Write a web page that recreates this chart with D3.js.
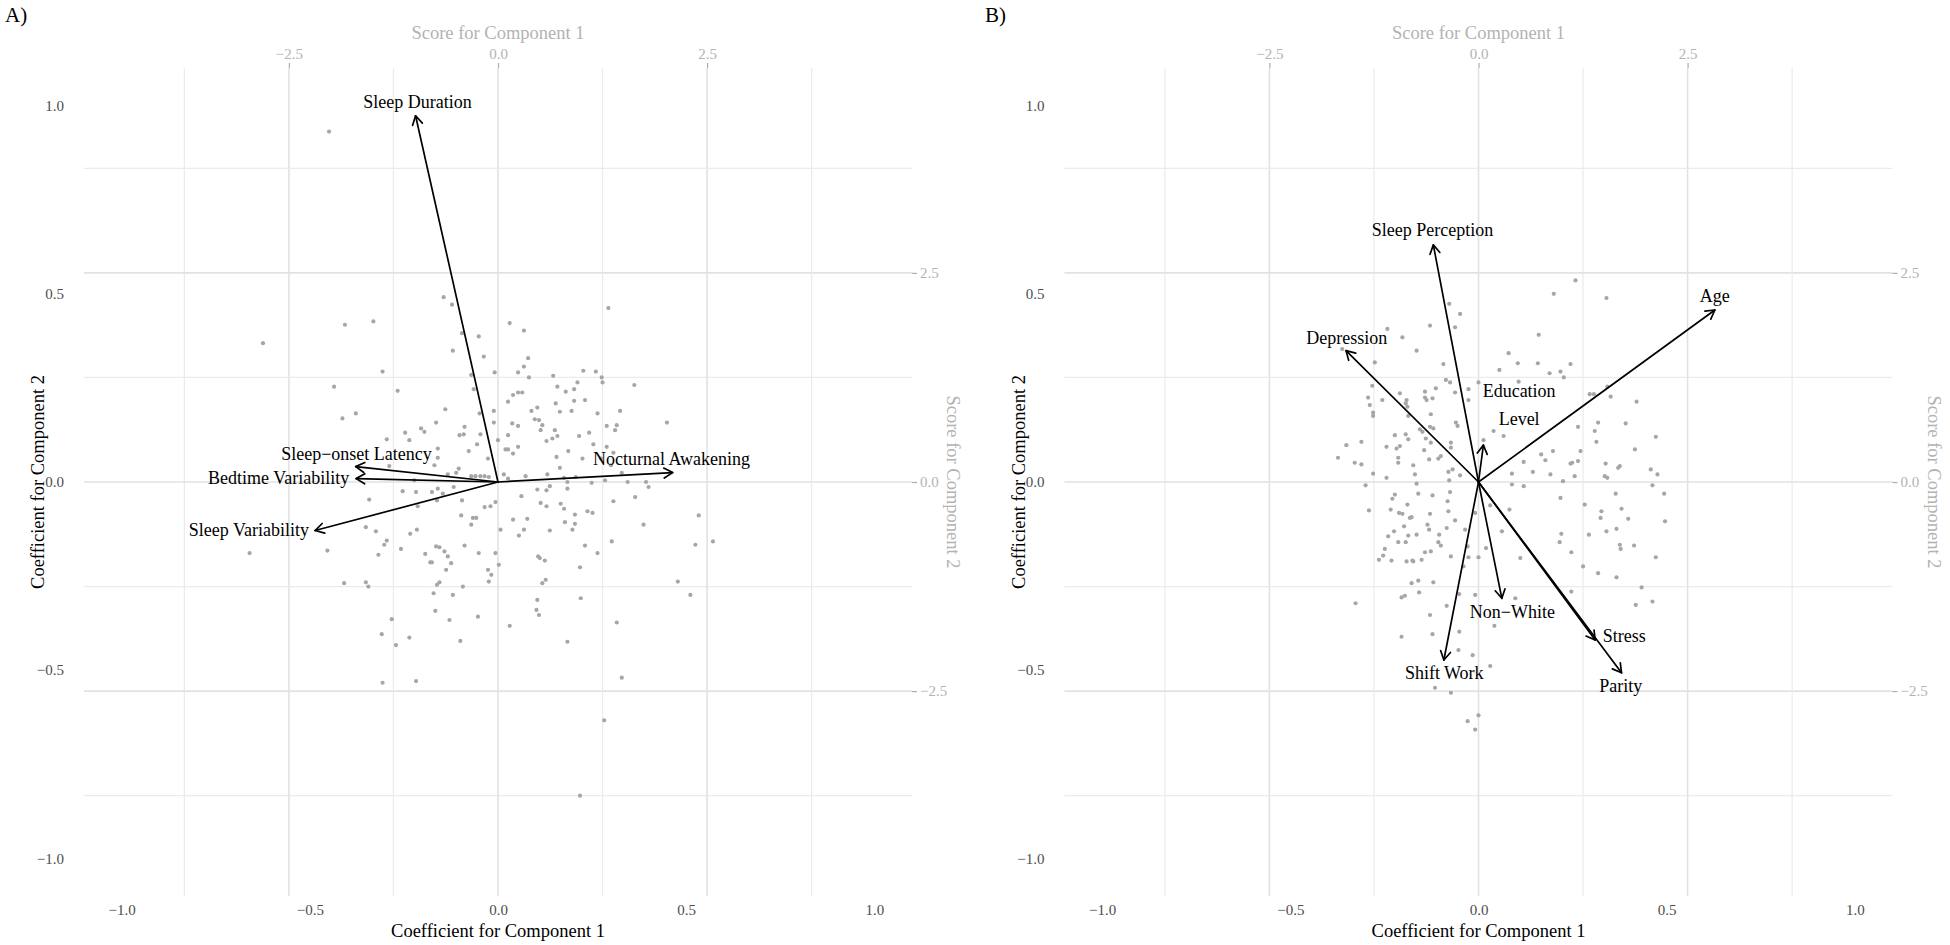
<!DOCTYPE html>
<html><head><meta charset="utf-8">
<script src="https://cdn.jsdelivr.net/npm/d3@7"></script>
<style>
body{margin:0;background:#fff}
svg{display:block}
text{font-family:"Liberation Serif","Times New Roman",serif}
</style>
</head><body>
<svg id="chart" width="1950" height="945"></svg>
<script>
// ---------- data ----------
const coefTicks = [-1, -0.5, 0, 0.5, 1];
const scoreTicks = [-2.5, 0, 2.5];
const gridScores = [-3.75, -2.5, -1.25, 0, 1.25, 2.5, 3.75];
const majorScores = [-2.5, 0, 2.5];
const scoreFactor = 4.5;

// Panel A loadings (coefficients) and label anchors
const varsA = ["Sleep Duration", "Sleep\u2212onset Latency", "Bedtime Variability", "Sleep Variability", "Nocturnal Awakening"];
const loadA_x = [-0.219, -0.378, -0.377, -0.486, 0.464];
const loadA_y = [0.973, 0.041, 0.009, -0.129, 0.025];
const labA_x = [-0.214, -0.376, -0.583, -0.662, 0.461];
const labA_y = [1.010, 0.075, 0.0125, -0.126, 0.061];

// Panel B loadings
const varsB = ["Age", "Sleep Perception", "Depression", "Education\nLevel", "Non\u2212White", "Stress", "Parity", "Shift Work"];
const loadB_x = [0.628, -0.120, -0.352, 0.013, 0.062, 0.310, 0.380, -0.092];
const loadB_y = [0.457, 0.630, 0.349, 0.098, -0.309, -0.420, -0.507, -0.473];
const labB_x = [0.628, -0.122, -0.350, 0.108, 0.090, 0.387, 0.378, -0.091];
const labB_y = [0.494, 0.671, 0.384, 0.206, -0.345, -0.408, -0.542, -0.508];

// Panel A scores (component 1, component 2)
const scoresA = [
[-2.02,4.19],[-2.81,1.66],[-0.65,2.21],[-0.55,2.12],[1.32,2.08],[-1.83,1.88],[-1.49,1.92],[0.14,1.90],[0.31,1.81],[-0.43,1.78],
[-0.23,1.74],[-0.54,1.57],[-0.17,1.50],[0.36,1.48],[0.31,1.38],[-1.38,1.32],[-0.04,1.31],[0.24,1.31],[0.37,1.25],[-0.32,1.28],
[0.66,1.27],[1.02,1.33],[1.17,1.32],[1.24,1.25],[1.25,1.19],[0.95,1.19],[1.63,1.16],[-1.96,1.14],[-1.20,1.09],[-0.29,1.11],
[0.71,1.14],[0.81,1.08],[0.91,1.11],[0.29,1.07],[0.24,1.07],[0.18,1.04],[0.12,0.96],[0.91,0.97],[1.04,0.98],[0.69,0.94],
[0.47,0.89],[-0.63,0.87],[-0.05,0.85],[0.40,0.85],[0.74,0.84],[0.88,0.85],[1.19,0.82],[1.46,0.85],[-1.86,0.76],[-1.70,0.82],
[-0.22,0.82],[0.44,0.75],[0.49,0.74],[2.02,0.71],[-0.74,0.71],[-0.05,0.71],[0.17,0.70],[0.24,0.67],[0.53,0.68],[-0.92,0.64],
[-0.88,0.60],[-0.40,0.66],[1.30,0.67],[1.42,0.68],[1.40,0.62],[0.68,0.62],[0.51,0.62],[1.09,0.59],[-1.11,0.59],[-0.46,0.56],
[-0.41,0.57],[-0.21,0.57],[0.12,0.56],[0.65,0.52],[0.71,0.55],[0.97,0.55],[-1.33,0.51],[-1.06,0.50],[0.00,0.50],[0.58,0.49],
[-0.25,0.45],[0.24,0.42],[1.14,0.45],[1.30,0.42],[-0.35,0.37],[0.09,0.39],[0.12,0.39],[0.18,0.34],[0.84,0.37],[0.70,0.30],
[1.38,0.35],[-0.72,0.40],[-0.72,0.29],[-0.76,0.20],[-0.12,0.28],[1.01,0.28],[1.23,0.28],[-1.30,0.19],[-0.47,0.16],[0.74,0.17],
[1.35,0.20],[1.48,0.11],[-0.50,0.11],[-0.60,0.09],[-0.32,0.07],[-0.27,0.07],[-0.21,0.07],[-0.16,0.07],[-0.11,0.06],[0.07,0.09],
[0.33,0.07],[0.59,0.09],[0.79,0.05],[0.93,0.06],[0.12,0.04],[-1.00,0.02],[0.83,0.00],[1.12,-0.01],[1.28,0.02],[1.55,0.00],
[1.77,0.00],[1.80,-0.06],[-0.72,-0.08],[-0.53,-0.06],[0.47,-0.09],[0.58,-0.10],[0.62,-0.05],[0.83,-0.08],[-1.14,-0.11],[-0.98,-0.12],
[-0.79,-0.12],[-0.66,-0.14],[0.28,-0.17],[1.64,-0.18],[-1.54,-0.21],[-0.73,-0.22],[-0.43,-0.22],[0.51,-0.25],[0.75,-0.26],[1.38,-0.23],
[-0.96,-0.29],[-0.16,-0.30],[-0.09,-0.29],[-0.03,-0.24],[0.58,-0.29],[0.79,-0.32],[1.07,-0.35],[1.13,-0.37],[0.92,-0.39],[-0.44,-0.40],
[2.40,-0.40],[0.18,-0.45],[0.35,-0.44],[-0.30,-0.43],[-0.26,-0.43],[-0.32,-0.51],[0.80,-0.48],[0.92,-0.50],[1.74,-0.51],[-1.58,-0.54],
[0.03,-0.57],[0.31,-0.57],[0.62,-0.58],[0.89,-0.57],[-1.46,-0.59],[-0.97,-0.57],[-1.05,-0.62],[0.25,-0.64],[-1.33,-0.70],[1.36,-0.71],
[2.57,-0.71],[-1.36,-0.75],[2.36,-0.75],[-0.74,-0.77],[-0.70,-0.78],[-0.40,-0.76],[1.04,-0.76],[-2.97,-0.85],[-2.04,-0.82],[-1.16,-0.80],
[-0.64,-0.83],[-0.23,-0.85],[-0.03,-0.85],[1.19,-0.85],[-1.43,-0.87],[-0.87,-0.86],[-0.60,-0.89],[0.48,-0.89],[0.50,-0.91],[-0.81,-0.96],
[-0.79,-0.96],[-0.56,-0.97],[0.56,-0.94],[0.01,-0.99],[-0.62,-1.05],[-0.12,-1.05],[0.98,-1.02],[-0.08,-1.11],[0.57,-1.17],[-1.84,-1.21],
[-1.58,-1.20],[-1.55,-1.25],[-0.70,-1.20],[-0.73,-1.23],[-0.11,-1.19],[0.53,-1.21],[-0.42,-1.25],[2.15,-1.19],[-0.77,-1.33],[-0.54,-1.35],
[2.30,-1.35],[0.99,-1.39],[0.47,-1.41],[-0.75,-1.54],[0.46,-1.53],[0.49,-1.59],[-0.24,-1.61],[-1.27,-1.64],[-0.58,-1.65],[1.42,-1.68],
[0.14,-1.72],[-1.39,-1.82],[-1.06,-1.86],[-0.45,-1.90],[0.83,-1.91],[-1.22,-1.95],[1.48,-2.34],[-1.38,-2.40],[-0.98,-2.38],[1.27,-2.85],
[0.98,-3.75]
];

// Panel B scores
const scoresB = [
[1.16,2.41],[0.90,2.25],[-0.35,2.13],[-0.22,2.01],[-0.58,1.87],[-0.28,1.85],[-1.09,1.83],[-0.91,1.73],[0.72,1.76],[-1.63,1.59],
[-0.74,1.57],[0.36,1.54],[0.47,1.42],[0.71,1.42],[1.10,1.41],[-1.24,1.43],[-0.42,1.41],[0.25,1.34],[0.85,1.30],[0.98,1.32],
[1.02,1.25],[0.48,1.20],[-0.39,1.22],[-0.34,1.19],[-1.27,1.15],[-0.51,1.12],[-0.12,1.11],[0.00,1.19],[-0.94,1.06],[-0.64,1.08],
[-0.28,1.07],[-1.32,1.01],[-1.15,0.98],[-0.86,0.98],[-0.64,1.01],[-0.55,1.00],[-0.62,0.98],[-0.87,0.94],[-0.85,0.90],[-1.30,0.92],
[-0.12,0.98],[-1.26,0.83],[-1.26,0.79],[-0.84,0.79],[-0.57,0.81],[-0.27,0.71],[-0.25,0.67],[-0.58,0.66],[-0.70,0.63],[-0.67,0.60],
[-0.54,0.64],[0.18,0.61],[0.30,0.55],[1.19,0.66],[-1.00,0.56],[-0.87,0.57],[-0.84,0.51],[-0.63,0.52],[-0.57,0.47],[-0.33,0.47],
[-1.40,0.48],[-1.58,0.44],[-1.10,0.42],[-0.98,0.40],[-0.94,0.43],[-0.65,0.38],[-0.33,0.41],[0.06,0.50],[0.89,0.37],[0.75,0.33],
[1.22,0.37],[-0.96,0.29],[-0.59,0.27],[-0.48,0.28],[-0.45,0.31],[-1.68,0.29],[0.54,0.24],[0.80,0.26],[1.10,0.22],[1.12,0.23],
[1.19,0.25],[-1.48,0.23],[-1.40,0.21],[-0.96,0.23],[-0.78,0.20],[-0.31,0.15],[-0.36,0.12],[-0.22,0.08],[-1.26,0.10],[-1.10,0.05],
[-0.76,0.09],[0.40,0.10],[0.65,0.12],[0.86,0.09],[1.15,0.07],[-0.35,0.02],[1.01,0.01],[-1.35,-0.04],[-0.74,-0.02],[0.40,-0.03],
[0.54,-0.05],[-1.00,-0.15],[-1.03,-0.20],[-0.72,-0.14],[-0.55,-0.16],[-0.34,-0.12],[-0.37,-0.23],[0.14,-0.28],[0.37,-0.33],[0.98,-0.19],
[-1.31,-0.34],[-1.05,-0.33],[-0.85,-0.27],[-0.95,-0.37],[-0.91,-0.38],[-0.58,-0.38],[-0.80,-0.42],[-0.82,-0.43],[-0.36,-0.35],[-0.28,-0.46],
[-0.04,-0.37],[-0.89,-0.53],[-0.61,-0.51],[-0.59,-0.57],[-0.38,-0.55],[-0.16,-0.57],[0.28,-0.59],[-1.01,-0.59],[-1.08,-0.65],[-0.84,-0.64],
[-0.74,-0.63],[-0.47,-0.63],[-0.96,-0.72],[-0.87,-0.72],[-0.48,-0.72],[-0.45,-0.76],[0.99,-0.62],[0.97,-0.72],[-1.12,-0.80],[-0.64,-0.84],
[-0.57,-0.83],[-0.13,-0.77],[0.09,-0.79],[1.11,-0.84],[-1.19,-0.93],[-1.14,-0.88],[-1.04,-0.94],[-0.86,-0.95],[-0.79,-0.94],[-0.78,-0.95],
[-0.68,-0.93],[-0.33,-0.89],[-0.12,-0.90],[0.00,-0.90],[0.50,-0.91],[-0.18,-1.01],[-0.80,-1.21],[-0.72,-1.18],[-0.54,-1.20],[-0.92,-1.38],
[-0.88,-1.36],[-0.71,-1.32],[-0.23,-1.34],[-0.04,-1.35],[0.44,-1.39],[1.11,-1.31],[-1.47,-1.45],[-0.38,-1.48],[-0.58,-1.59],[0.19,-1.72],
[-0.92,-1.85],[-0.55,-1.82],[-0.23,-1.79],[-0.24,-2.01],[-0.07,-2.07],[0.14,-2.20],[-0.52,-2.46],[-0.33,-2.52],[0.00,-2.79],[-0.13,-2.86],
[-0.04,-2.96],
[1.53,2.20],[1.89,0.96],[1.58,1.02],[1.33,1.05],[1.38,1.05],[1.54,1.14],[1.76,0.70],[1.43,0.71],[1.39,0.61],[1.41,0.48],
[2.12,0.54],[1.87,0.39],[1.52,0.22],[1.67,0.17],[1.69,0.19],[2.06,0.15],[2.14,0.09],[1.51,0.07],[1.54,0.05],[2.08,-0.04],
[2.22,-0.14],[1.64,-0.14],[1.27,-0.27],[1.47,-0.35],[1.71,-0.32],[1.46,-0.43],[1.79,-0.44],[2.23,-0.47],[1.53,-0.59],[1.65,-0.56],
[1.32,-0.63],[1.69,-0.75],[1.70,-0.80],[1.86,-0.76],[2.12,-0.90],[1.25,-1.01],[1.43,-1.09],[1.65,-1.14],[1.95,-1.26],[1.88,-1.47],
[2.08,-1.43]
];

// ---------- drawing ----------
const svg = d3.select("#chart");
const SIZE = 828, TOP = 68;
const coefDomain = [-1.1, 1.1];

function drawPanel(cfg) {
  const L = cfg.left;
  const xC = d3.scaleLinear().domain(coefDomain).range([L, L + SIZE]);
  const yC = d3.scaleLinear().domain(coefDomain).range([TOP + SIZE, TOP]);
  const xS = d3.scaleLinear().domain(coefDomain.map(d => d * scoreFactor)).range([L, L + SIZE]);
  const yS = d3.scaleLinear().domain(coefDomain.map(d => d * scoreFactor)).range([TOP + SIZE, TOP]);
  const g = svg.append("g");

  // grid
  const grid = g.append("g");
  gridScores.forEach(s => {
    const major = majorScores.includes(s);
    const col = major ? "#e2e2e2" : "#ebebeb", w = major ? 1.6 : 1.2;
    grid.append("line").attr("x1", xS(s)).attr("x2", xS(s)).attr("y1", TOP).attr("y2", TOP + SIZE)
      .attr("stroke", col).attr("stroke-width", w);
    grid.append("line").attr("y1", yS(s)).attr("y2", yS(s)).attr("x1", L).attr("x2", L + SIZE)
      .attr("stroke", col).attr("stroke-width", w);
  });

  // points
  g.append("g").selectAll("circle").data(cfg.scores).join("circle")
    .attr("cx", d => xS(d[0])).attr("cy", d => yS(d[1])).attr("r", 2.1).attr("fill", "#a6a6a6");

  // arrows
  const ag = g.append("g").attr("stroke", "#000").attr("stroke-width", 1.7).attr("fill", "none")
    .attr("stroke-linecap", "round").attr("stroke-linejoin", "round");
  cfg.lx.forEach((vx, i) => {
    const vy = cfg.ly[i];
    const x0 = xC(0), y0 = yC(0), x1 = xC(vx), y1 = yC(vy);
    ag.append("line").attr("x1", x0).attr("y1", y0).attr("x2", x1).attr("y2", y1);
    const ang = Math.atan2(y1 - y0, x1 - x0), hl = 10, ha = Math.PI / 6;
    const p = d3.path();
    p.moveTo(x1 - hl * Math.cos(ang - ha), y1 - hl * Math.sin(ang - ha));
    p.lineTo(x1, y1);
    p.lineTo(x1 - hl * Math.cos(ang + ha), y1 - hl * Math.sin(ang + ha));
    ag.append("path").attr("d", p.toString());
  });

  // labels
  cfg.names.forEach((name, i) => {
    const lines = name.split("\n");
    const t = g.append("text").attr("x", xC(cfg.tx[i])).attr("y", yC(cfg.ty[i]))
      .attr("text-anchor", "middle").attr("font-size", 18).attr("fill", "#000");
    const lh = 27.7;
    lines.forEach((ln, k) => {
      t.append("tspan").attr("x", xC(cfg.tx[i]))
        .attr("y", yC(cfg.ty[i]) + (k - (lines.length - 1) / 2) * lh)
        .attr("dy", "0.35em").text(ln);
    });
  });

  // axes: coefficient (bottom, left)
  const fmt = d3.format(".1f");
  const bottom = g.append("g").attr("transform", `translate(0,${TOP + SIZE})`)
    .call(d3.axisBottom(xC).tickValues(coefTicks).tickSize(0).tickPadding(8).tickFormat(fmt));
  const left = g.append("g").attr("transform", `translate(${L},0)`)
    .call(d3.axisLeft(yC).tickValues(coefTicks).tickSize(0).tickPadding(20).tickFormat(fmt));
  [bottom, left].forEach(a => {
    a.select(".domain").remove();
    a.selectAll("text").attr("font-size", 15).attr("fill", "#4d4d4d")
      .attr("font-family", '"Liberation Serif","Times New Roman",serif');
  });

  // axes: score (top, right)
  const top = g.append("g").attr("transform", `translate(0,${TOP})`)
    .call(d3.axisTop(xS).tickValues(scoreTicks).tickSize(5).tickPadding(4).tickFormat(fmt));
  const right = g.append("g").attr("transform", `translate(${L + SIZE},0)`)
    .call(d3.axisRight(yS).tickValues(scoreTicks).tickSize(5).tickPadding(3).tickFormat(fmt));
  [top, right].forEach(a => {
    a.select(".domain").remove();
    a.selectAll("line").attr("stroke", "#adadad").attr("stroke-width", 1.2);
    a.selectAll("text").attr("font-size", 15).attr("fill", "#b3b3b3")
      .attr("font-family", '"Liberation Serif","Times New Roman",serif');
  });

  // titles
  const cx = L + SIZE / 2, cy = TOP + SIZE / 2;
  g.append("text").attr("x", cx).attr("y", 937).attr("text-anchor", "middle")
    .attr("font-size", 18.5).attr("fill", "#000").text("Coefficient for Component 1");
  g.append("text").attr("transform", `translate(${L - 40},${cy}) rotate(-90)`).attr("text-anchor", "middle")
    .attr("font-size", 18.5).attr("fill", "#000").text("Coefficient for Component 2");
  g.append("text").attr("x", cx).attr("y", 39).attr("text-anchor", "middle")
    .attr("font-size", 18.5).attr("fill", "#b3b3b3").text("Score for Component 1");
  g.append("text").attr("transform", `translate(${L + SIZE + 35},${cy}) rotate(90)`).attr("text-anchor", "middle")
    .attr("font-size", 18.5).attr("fill", "#b3b3b3").text("Score for Component 2");

  // panel tag
  g.append("text").attr("x", cfg.tagX).attr("y", 22).attr("font-size", 21).attr("fill", "#000").text(cfg.tag);
}

drawPanel({left: 84, tag: "A)", tagX: 5, names: varsA, lx: loadA_x, ly: loadA_y, tx: labA_x, ty: labA_y, scores: scoresA});
drawPanel({left: 1064.5, tag: "B)", tagX: 985, names: varsB, lx: loadB_x, ly: loadB_y, tx: labB_x, ty: labB_y, scores: scoresB});
</script>
</body></html>
